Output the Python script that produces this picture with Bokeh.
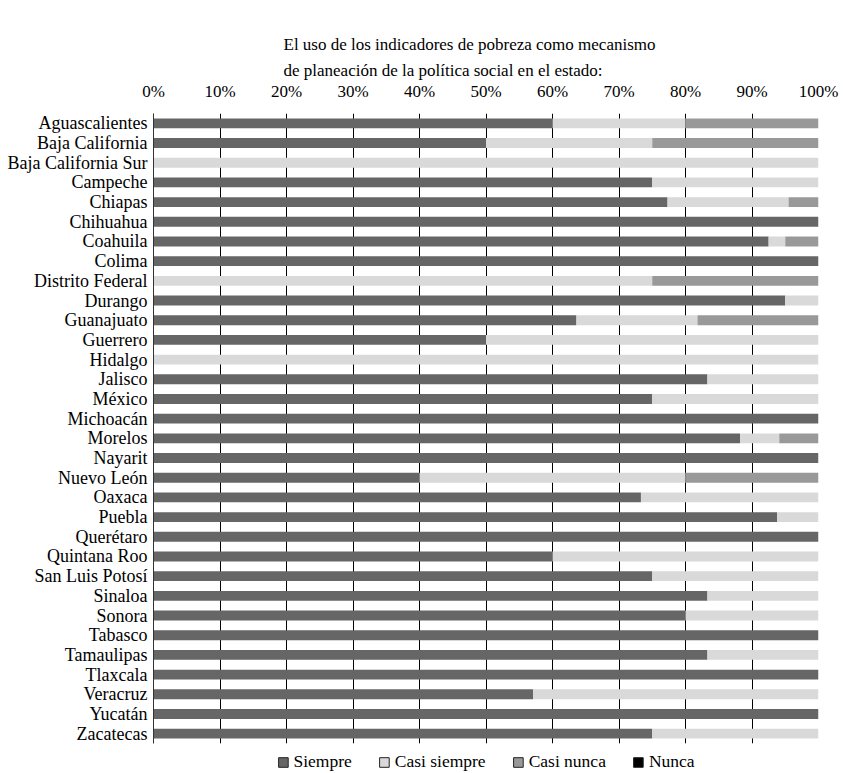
from bokeh.plotting import figure
from bokeh.models import ColumnDataSource, FactorRange, FixedTicker, Legend, LegendItem, Title
from bokeh.embed import file_html
from bokeh.resources import INLINE

states = ["Aguascalientes", "Baja California", "Baja California Sur", "Campeche", "Chiapas",
          "Chihuahua", "Coahuila", "Colima", "Distrito Federal", "Durango", "Guanajuato",
          "Guerrero", "Hidalgo", "Jalisco", "México", "Michoacán", "Morelos", "Nayarit",
          "Nuevo León", "Oaxaca", "Puebla", "Querétaro", "Quintana Roo", "San Luis Potosí",
          "Sinaloa", "Sonora", "Tabasco", "Tamaulipas", "Tlaxcala", "Veracruz", "Yucatán",
          "Zacatecas"]

siempre = [60, 50, 0, 75, 77.3, 100, 92.5, 100, 0, 95, 63.6, 50, 0, 83.3, 75, 100, 88.2, 100,
           40, 73.3, 93.8, 100, 60, 75, 83.3, 80, 100, 83.3, 100, 57.1, 100, 75]
casi_siempre = [20, 25, 100, 25, 18.2, 0, 2.5, 0, 75, 5, 18.2, 50, 100, 16.7, 25, 0, 5.9, 0,
                40, 26.7, 6.2, 0, 40, 25, 16.7, 20, 0, 16.7, 0, 42.9, 0, 25]
casi_nunca = [20, 25, 0, 0, 4.5, 0, 5, 0, 25, 0, 18.2, 0, 0, 0, 0, 0, 5.9, 0,
              20, 0, 0, 0, 0, 0, 0, 0, 0, 0, 0, 0, 0, 0]
nunca = [0] * len(states)

series = ["Siempre", "Casi siempre", "Casi nunca", "Nunca"]
colors = ["#666666", "#d9d9d9", "#999999", "#000000"]
ticks = [0, 10, 20, 30, 40, 50, 60, 70, 80, 90, 100]
tick_labels = {t: f"{t}%" for t in ticks}
title_text = "El uso de los indicadores de pobreza como mecanismo\nde planeación de la política social en el estado:"

FONT = "Liberation Serif"

source = ColumnDataSource(dict(state=states, Siempre=siempre, **{"Casi siempre": casi_siempre},
                               **{"Casi nunca": casi_nunca}, Nunca=nunca))

p = figure(frame_width=665, frame_height=630, output_backend="svg", toolbar_location=None,
           y_range=FactorRange(factors=list(reversed(states)), range_padding=0),
           x_range=(0, 100), x_axis_location="above",
           min_border_left=153, min_border_right=26, min_border_top=113, min_border_bottom=30)

renderers = p.hbar_stack(series, y="state", height=0.5, color=colors, source=source, line_color=None)

# legend proxies (drawn off the visible x range, shown only as legend swatches)
items = []
for name, col in zip(series, colors):
    r = p.rect(x=[-50], y=[states[0]], width=1, height=0.1, fill_color=col,
               line_color="#222222", line_width=1)
    items.append(LegendItem(label=name, renderers=[r]))

legend = Legend(items=items, orientation="horizontal", location="top",
                label_text_font=FONT, label_text_font_size="17.5px", label_text_color="black",
                glyph_width=12, glyph_height=12, label_standoff=5, spacing=26,
                border_line_color=None, background_fill_alpha=0, padding=0, margin=8,
                label_height=14)
p.add_layout(legend, "below")

t = Title(text=title_text, align="left", offset=130, text_font=FONT, text_font_size="17px",
          text_font_style="normal", text_color="black", text_line_height=1.4, standoff=-4)
p.add_layout(t, "above")

p.xaxis.ticker = FixedTicker(ticks=ticks)
p.xaxis.major_label_overrides = tick_labels
p.xaxis.major_label_text_font = FONT
p.xaxis.major_label_text_font_size = "17px"
p.xaxis.major_label_text_color = "black"
p.xaxis.axis_line_color = None
p.xaxis.major_tick_line_color = None
p.xaxis.minor_tick_line_color = None
p.xaxis.major_label_standoff = 7

p.yaxis.major_label_text_font = FONT
p.yaxis.major_label_text_font_size = "18px"
p.yaxis.major_label_text_color = "black"
p.yaxis.axis_line_color = "#333333"
p.yaxis.major_tick_line_color = None
p.yaxis.minor_tick_line_color = None
p.yaxis.major_label_standoff = 0

p.xgrid.ticker = FixedTicker(ticks=ticks)
p.xgrid.grid_line_color = "black"
p.xgrid.grid_line_width = 1
p.ygrid.grid_line_color = None
p.outline_line_color = None

open("out.html", "w").write(file_html(p, INLINE))
